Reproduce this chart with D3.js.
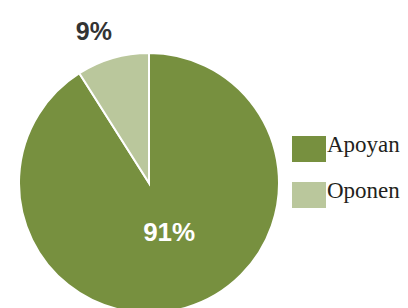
<!DOCTYPE html>
<html>
<head>
<meta charset="utf-8">
<script src="https://cdn.jsdelivr.net/npm/d3@7"></script>
<style>
  body { margin: 0; background: #fff; }
</style>
</head>
<body>
<div id="chart"></div>
<script>
var categories = ["Apoyan", "Oponen"];
var values = [91, 9];
var colors = ["#77903f", "#bac79c"];

var w = 408, h = 308;
var cx = 149, cy = 183, r = 130;

var svg = d3.select("#chart").append("svg")
  .attr("width", w)
  .attr("height", h);

var pie = d3.pie().sort(null).value(function(d) { return d; });
var arcs = pie(values);
var arc = d3.arc().innerRadius(0).outerRadius(r);

var g = svg.append("g").attr("transform", "translate(" + cx + "," + cy + ")");

g.selectAll("path")
  .data(arcs)
  .enter()
  .append("path")
  .attr("d", arc)
  .attr("fill", function(d, i) { return colors[i]; })
  .attr("stroke", "#fff")
  .attr("stroke-width", 2);

// percent labels: big one inside, small one above the pie
var inner = d3.arc().innerRadius(r * 0.39).outerRadius(r * 0.39);
var outer = d3.arc().innerRadius(r * 1.08).outerRadius(r * 1.08);

g.append("text")
  .attr("transform", function() {
    var c = inner.centroid(arcs[0]);
    return "translate(" + (c[0] + 6) + "," + c[1] + ")";
  })
  .attr("text-anchor", "middle")
  .attr("dy", "0.35em")
  .attr("font-family", "Liberation Sans, Arial, sans-serif")
  .attr("font-weight", "bold")
  .attr("font-size", 26)
  .attr("fill", "#fff")
  .text(values[0] + "%");

g.append("text")
  .attr("transform", function() {
    var c = outer.centroid(arcs[1]);
    return "translate(" + (c[0] - 16) + "," + (c[1] - 17) + ")";
  })
  .attr("text-anchor", "middle")
  .attr("dy", "0.35em")
  .attr("font-family", "Liberation Sans, Arial, sans-serif")
  .attr("font-weight", "bold")
  .attr("font-size", 25)
  .attr("fill", "#333")
  .text(values[1] + "%");

// legend
var legendY = d3.scalePoint().domain(categories).range([136, 182]);

var legend = svg.selectAll(".legend")
  .data(categories)
  .enter()
  .append("g")
  .attr("class", "legend");

legend.append("rect")
  .attr("x", 292)
  .attr("y", function(d) { return legendY(d); })
  .attr("width", 34)
  .attr("height", 26)
  .attr("fill", function(d, i) { return colors[i]; });

legend.append("text")
  .attr("x", 327)
  .attr("y", function(d) { return legendY(d) + 16; })
  .attr("font-family", "Liberation Serif, Times New Roman, serif")
  .attr("font-size", 23)
  .attr("fill", "#231f20")
  .text(function(d) { return d; });
</script>
</body>
</html>
